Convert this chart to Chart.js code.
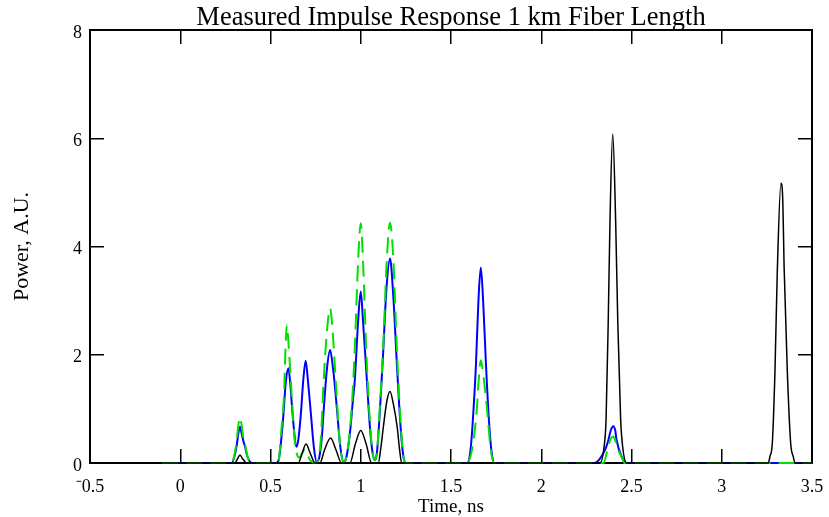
<!DOCTYPE html>
<html>
<head>
<meta charset="utf-8">
<script src="https://cdn.jsdelivr.net/npm/chart.js@4.4.1/dist/chart.umd.min.js"></script>
<style>
  html, body { margin: 0; padding: 0; background: #fff; }
  #wrap { width: 829px; height: 517px; position: relative; }
</style>
</head>
<body>
<div id="wrap"><canvas id="impulseChart"></canvas></div>
<script>
const impulseCtx = document.getElementById("impulseChart")

// traces (time in ns, power in A.U.)
const blackTime = [-0.1, 0.303, 0.318, 0.331, 0.345, 0.368,
    0.654, 0.675, 0.697, 0.72, 0.747,
    0.774, 0.80, 0.833, 0.862, 0.894,
    0.94, 0.97, 1.0, 1.03, 1.06,
    1.097, 1.112, 1.125, 1.145, 1.162, 1.18, 1.202, 1.215, 1.227,
    2.326, 2.348, 2.359, 2.371, 2.381, 2.396, 2.412, 2.424, 2.44, 2.451, 2.473,
    3.258, 3.267, 3.28, 3.295, 3.308, 3.328, 3.337, 3.346, 3.363, 3.382, 3.396, 3.406, 3.5]
const blackPower = [0, 0, 0.08, 0.15, 0.08, 0,
    0, 0.18, 0.35, 0.18, 0,
    0, 0.25, 0.46, 0.25, 0,
    0, 0.35, 0.6, 0.35, 0,
    0, 0.3, 0.66, 1.15, 1.32, 1.1, 0.66, 0.25, 0,
    0, 0.3, 0.8, 2.6, 4.5, 6.08, 4.5, 2.6, 0.8, 0.3, 0,
    0, 0.12, 0.36, 1.72, 3.57, 5.17, 4.95, 3.57, 1.72, 0.36, 0.12, 0, 0]

const blueTime = [-0.1, 0.285, 0.30, 0.313, 0.322, 0.331, 0.34, 0.35, 0.359, 0.372, 0.39, 0.40,
    0.53, 0.545, 0.56, 0.571, 0.585, 0.599, 0.61, 0.623, 0.645,
    0.655, 0.669, 0.682, 0.695, 0.708, 0.723, 0.74, 0.756,
    0.77, 0.785, 0.796, 0.813, 0.83, 0.848, 0.867, 0.885, 0.905,
    0.92, 0.94, 0.955, 0.968, 0.985, 1.0, 1.013, 1.033, 1.05, 1.065, 1.079,
    1.09, 1.105, 1.122, 1.142, 1.162, 1.18, 1.199, 1.22, 1.235, 1.25,
    1.59, 1.61, 1.625, 1.638, 1.652, 1.665, 1.678, 1.694, 1.71, 1.725, 1.74,
    2.295, 2.353, 2.37, 2.385, 2.399, 2.41, 2.417, 2.445, 2.47, 3.5]
const bluePower = [0, 0, 0.12, 0.33, 0.55, 0.67, 0.55, 0.4, 0.3, 0.12, 0.01, 0,
    0, 0.05, 0.45, 0.87, 1.5, 1.75, 1.45, 0.87, 0.3,
    0.45, 0.94, 1.55, 1.89, 1.5, 0.94, 0.3, 0.02,
    0.1, 0.5, 1.04, 1.75, 2.09, 1.7, 1.04, 0.35, 0.02,
    0.1, 0.55, 1.1, 1.58, 2.6, 3.17, 2.6, 1.58, 0.7, 0.2, 0.05,
    0.2, 0.9, 1.9, 3.2, 3.78, 3.1, 1.9, 0.7, 0.15, 0,
    0, 0.3, 1.0, 1.8, 3.0, 3.61, 3.0, 1.8, 0.8, 0.2, 0,
    0, 0.24, 0.4, 0.6, 0.68, 0.6, 0.43, 0.12, 0, 0]

const greenTime = [-0.1, 0.285, 0.30, 0.313, 0.322, 0.331, 0.34, 0.35, 0.359, 0.372, 0.39, 0.40,
    0.53, 0.545, 0.56, 0.575, 0.583, 0.59, 0.60, 0.617, 0.636, 0.66, 0.69, 0.72, 0.75,
    0.765, 0.78, 0.793, 0.812, 0.83, 0.845, 0.863, 0.885, 0.905,
    0.92, 0.94, 0.955, 0.968, 0.985, 1.0, 1.013, 1.029, 1.05, 1.065, 1.079,
    1.09, 1.105, 1.125, 1.145, 1.162, 1.18, 1.199, 1.22, 1.235, 1.25,
    1.59, 1.61, 1.628, 1.642, 1.655, 1.665, 1.68, 1.701, 1.72, 1.74,
    2.344, 2.371, 2.385, 2.399, 2.41, 2.427, 2.455, 2.46, 3.5]
const greenPower = [0, 0, 0.15, 0.42, 0.7, 0.84, 0.7, 0.45, 0.35, 0.12, 0.01, 0,
    0, 0.05, 0.6, 1.27, 2.1, 2.55, 2.2, 1.27, 0.36, 0.1, 0.25, 0.05, 0,
    0.05, 0.5, 1.43, 2.4, 2.86, 2.4, 1.43, 0.35, 0.02,
    0.1, 0.6, 1.3, 2.2, 3.7, 4.43, 3.7, 2.2, 0.8, 0.2, 0.05,
    0.2, 1.0, 2.2, 3.8, 4.44, 3.8, 2.2, 0.8, 0.15, 0,
    0, 0.15, 0.5, 0.95, 1.6, 1.9, 1.6, 0.95, 0.25, 0,
    0, 0.3, 0.45, 0.49, 0.42, 0.24, 0.04, 0, 0]

const toPoints = (xs, ys) => xs.map((x, i) => ({ x: x, y: ys[i] }))

const serif = "'Liberation Serif', 'Times New Roman', serif"

function fixSize(size, horizontal) {
    // pin the axis boxes so the plot frame lands where the original one is
    return function (scale) {
        if (horizontal) scale.height = size
        else scale.width = size
        scale.paddingLeft = 0
        scale.paddingRight = 0
        scale.paddingTop = 0
        scale.paddingBottom = 0
    }
}

const tickGrid = {
    drawOnChartArea: false,
    tickLength: -14,
    lineWidth: 1.5,
    color: '#000'
}
const frame = { display: true, color: '#000', width: 2 }

const impulseChart = new Chart(impulseCtx, {
    type: 'line',
    data: {
        datasets: [{
            label: 'Trace 1',
            data: toPoints(blackTime, blackPower),
            borderColor: '#000000',
            borderWidth: 1.5,
            pointRadius: 0,
            cubicInterpolationMode: 'monotone',
            clip: false
        }, {
            label: 'Trace 3',
            data: toPoints(greenTime, greenPower),
            borderColor: '#00e000',
            borderWidth: 2,
            borderDash: [16, 8],
            pointRadius: 0,
            cubicInterpolationMode: 'monotone',
            clip: false
        }, {
            label: 'Trace 2',
            data: toPoints(blueTime, bluePower),
            borderColor: '#0000ff',
            borderWidth: 2,
            pointRadius: 0,
            cubicInterpolationMode: 'monotone',
            clip: false
        }]
    },
    options: {
        responsive: true,
        maintainAspectRatio: false,
        animation: false,
        layout: { padding: 0 },
        plugins: {
            legend: { display: false },
            tooltip: { enabled: false },
            title: { display: false }
        },
        scales: {
            x: {
                type: 'linear',
                position: 'bottom',
                min: -0.5,
                max: 3.5,
                grid: tickGrid,
                border: frame,
                ticks: {
                    stepSize: 0.5,
                    padding: 29,
                    maxRotation: 0,
                    color: '#000',
                    font: { family: serif, size: 18, lineHeight: 1 },
                    callback: (v) => v < 0 ? '\u207B' + Math.abs(v) : String(v)
                },
                title: {
                    display: true,
                    text: 'Time, ns',
                    color: '#000',
                    padding: 0,
                    font: { family: serif, size: 19, lineHeight: 1 }
                },
                afterFit: fixSize(54, true)
            },
            x2: {
                type: 'linear',
                position: 'top',
                min: -0.5,
                max: 3.5,
                grid: tickGrid,
                border: frame,
                ticks: { stepSize: 0.5, display: false },
                title: {
                    display: true,
                    text: 'Measured Impulse Response 1 km Fiber Length',
                    color: '#000',
                    padding: { top: 5, bottom: 0 },
                    font: { family: serif, size: 26.5, lineHeight: 1 }
                },
                afterFit: fixSize(30, true)
            },
            y: {
                type: 'linear',
                position: 'left',
                min: 0,
                max: 8,
                grid: tickGrid,
                border: frame,
                ticks: {
                    stepSize: 2,
                    padding: 22,
                    labelOffset: 3,
                    color: '#000',
                    font: { family: serif, size: 18, lineHeight: 1 }
                },
                title: {
                    display: true,
                    text: 'Power, A.U.',
                    color: '#000',
                    padding: { top: 11, bottom: 0 },
                    font: { family: serif, size: 22, lineHeight: 1 }
                },
                afterFit: fixSize(90, false)
            },
            y2: {
                type: 'linear',
                position: 'right',
                min: 0,
                max: 8,
                grid: tickGrid,
                border: frame,
                ticks: { stepSize: 2, display: false },
                afterFit: fixSize(17, false)
            }
        }
    }
});
</script>
</body>
</html>
